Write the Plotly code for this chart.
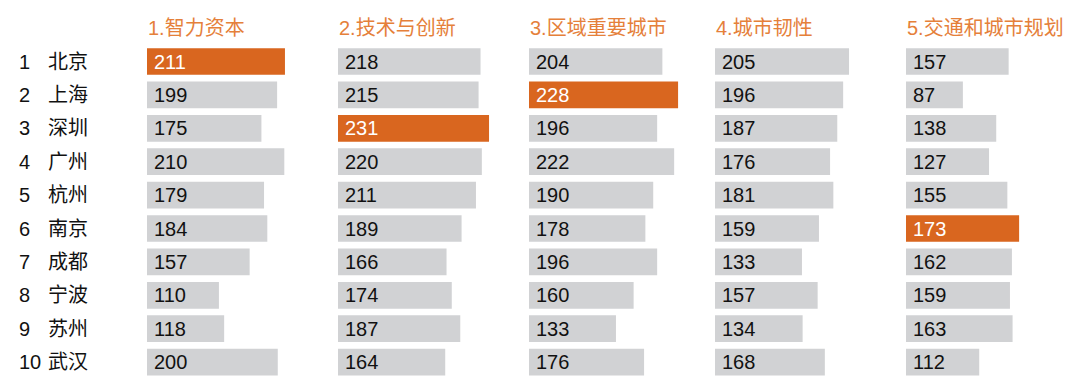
import plotly.graph_objects as go

ranks = [1, 2, 3, 4, 5, 6, 7, 8, 9, 10]
cities = ["北京", "上海", "深圳", "广州", "杭州", "南京", "成都", "宁波", "苏州", "武汉"]
headers = ["1.智力资本", "2.技术与创新", "3.区域重要城市", "4.城市韧性", "5.交通和城市规划"]
intellectual = [211, 199, 175, 210, 179, 184, 157, 110, 118, 200]
innovation = [218, 215, 231, 220, 211, 189, 166, 174, 187, 164]
regional = [204, 228, 196, 222, 190, 178, 196, 160, 133, 176]
resilience = [205, 196, 187, 176, 181, 159, 133, 157, 134, 168]
transport = [157, 87, 138, 127, 155, 173, 162, 159, 163, 112]
series = [intellectual, innovation, regional, resilience, transport]
highlight_city = ["北京", "深圳", "上海", None, "南京"]

W, H = 1080, 381
ORANGE = "#D9661F"
HEAD = "#E5803A"
GRAY = "#D1D2D4"
FONT = "Liberation Sans, Noto Sans CJK SC, sans-serif"

col_start = [147, 338, 529, 715, 906]
col_width = 170
xmax = 260

fig = go.Figure()
for i, vals in enumerate(series):
    hl = [c == highlight_city[i] for c in cities]
    colors = [ORANGE if h else GRAY for h in hl]
    tcolors = ["white" if h else "#111111" for h in hl]
    ax = "" if i == 0 else str(i + 1)
    fig.add_trace(go.Bar(
        x=vals, y=ranks, orientation="h",
        marker=dict(color=colors, line=dict(width=0)),
        width=0.8,
        xaxis="x" + ax, yaxis="y",
        hoverinfo="skip", showlegend=False,
    ))
    d0 = col_start[i] / W
    d1 = (col_start[i] + col_width) / W
    fig.layout["xaxis" + ax] = dict(domain=[d0, d1], range=[0, xmax],
                                    visible=False, fixedrange=True)
    for r, v, tc in zip(ranks, vals, tcolors):
        fig.add_annotation(text=str(v), x=0, y=r, xref="x" + ax, yref="y",
                           xanchor="left", yanchor="middle", xshift=5, showarrow=False,
                           font=dict(color=tc, size=20, family=FONT))
    fig.add_annotation(text=headers[i], x=(col_start[i] - 1) / W, y=(H - 28) / H,
                       xref="paper", yref="paper", xanchor="left", yanchor="middle",
                       showarrow=False, font=dict(color=HEAD, size=20, family=FONT))

y_top = (H - 44.8) / H
y_bot = (H - 378.8) / H
fig.update_layout(
    yaxis=dict(domain=[y_bot, y_top], range=[10.5, 0.5], visible=False, fixedrange=True),
)

for r, c in zip(ranks, cities):
    fig.add_annotation(text=str(r), x=17 / W, y=r, xref="paper", yref="y",
                       xanchor="left", yanchor="middle", showarrow=False,
                       font=dict(color="#111111", size=20, family=FONT))
    fig.add_annotation(text=c, x=46 / W, y=r, xref="paper", yref="y",
                       xanchor="left", yanchor="middle", showarrow=False,
                       font=dict(color="#111111", size=20, family=FONT))

fig.update_layout(
    width=W, height=H,
    margin=dict(l=0, r=0, t=0, b=0),
    paper_bgcolor="white", plot_bgcolor="white",
    font=dict(family=FONT),
)
fig.write_html("out.html", config={"displayModeBar": False},
               post_script="document.body.style.margin='0';document.body.style.overflow='hidden';")
